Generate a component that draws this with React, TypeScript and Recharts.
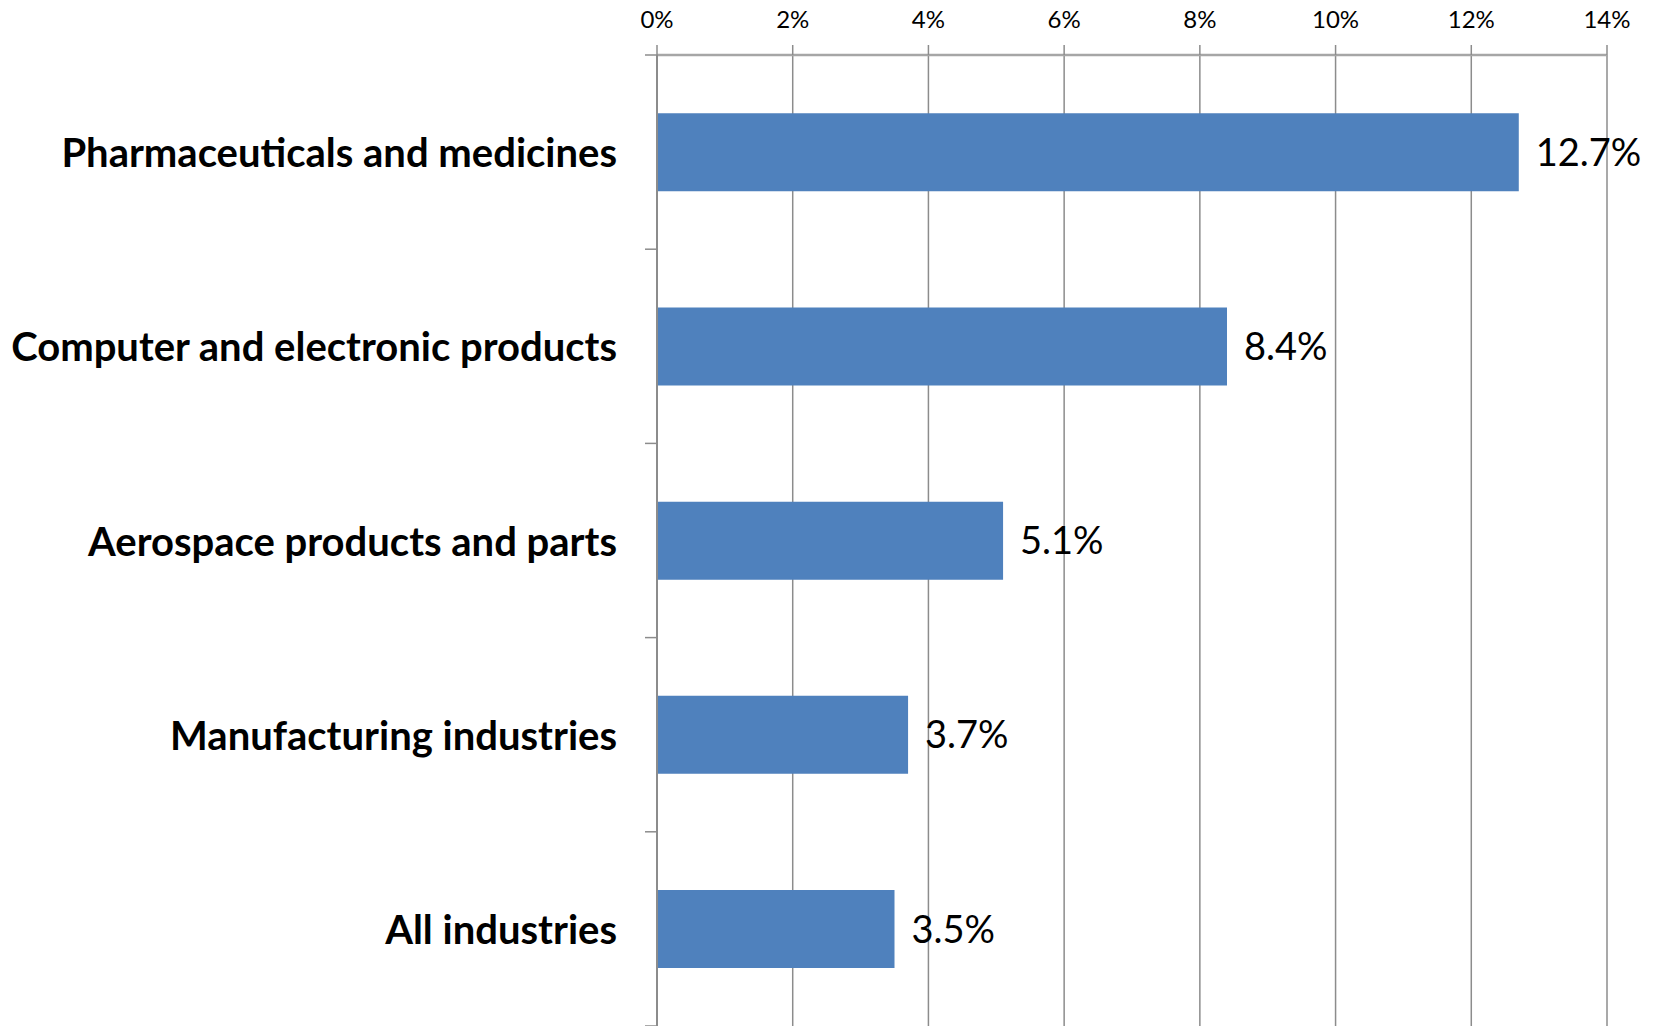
import { Bar, BarChart, CartesianGrid, LabelList, XAxis, YAxis } from "recharts";

const categories = [
  "Pharmaceuticals and medicines",
  "Computer and electronic products",
  "Aerospace products and parts",
  "Manufacturing industries",
  "All industries",
];
const shares = [12.7, 8.4, 5.1, 3.7, 3.5];
const xTicks = [0, 2, 4, 6, 8, 10, 12, 14];

const chartData = categories.map((name, i) => ({ name, share: shares[i] }));

const FONT = "Lato, 'Open Sans', sans-serif";
const GRID = "#8c8c8c";

function CategoryTick(props: any) {
  const { x, y, payload, index } = props;
  const half = payload.offset ?? 0;
  const top = y - half;
  const isLast = index === categories.length - 1;
  return (
    <g>
      <line x1={x} x2={x + 12} y1={top} y2={top} stroke={GRID} strokeWidth={1.5} />
      {isLast && (
        <line x1={x} x2={x + 12} y1={y + half} y2={y + half} stroke={GRID} strokeWidth={1.5} />
      )}
      <text
        x={x - 28}
        y={y}
        textAnchor="end"
        dominantBaseline="central"
        fontFamily={FONT}
        fontWeight={700}
        fontSize={40}
        fill="#000"
      >
        {payload.value}
      </text>
    </g>
  );
}

export default function App() {
  return (
    <div style={{ position: "absolute", left: 0, top: 0, background: "#fff" }}>
      <BarChart
        width={1660}
        height={1026}
        data={chartData}
        layout="vertical"
        barCategoryGap="30%"
        margin={{ top: 0, right: 53, left: 0, bottom: 0 }}
      >
        <CartesianGrid horizontal={false} stroke={GRID} strokeWidth={1.5} />
        <XAxis
          type="number"
          orientation="top"
          domain={[0, 14]}
          ticks={xTicks}
          height={55}
          tickSize={10}
          tickMargin={17}
          interval={0}
          tickFormatter={(v: number) => `${v}%`}
          axisLine={{ stroke: "#a6a6a6", strokeWidth: 2.5 }}
          tickLine={{ stroke: GRID, strokeWidth: 1.5 }}
          tick={{ fill: "#000", fontSize: 24, fontFamily: FONT }}
        />
        <YAxis
          type="category"
          dataKey="name"
          width={657}
          axisLine={{ stroke: GRID, strokeWidth: 2 }}
          tickLine={false}
          interval={0}
          tick={(p: any) => <CategoryTick {...p} x={645} />}
        />
        <Bar dataKey="share" fill="#4f81bd" isAnimationActive={false}>
          <LabelList
            dataKey="share"
            position="right"
            offset={17}
            formatter={(v: any) => `${Number(v).toFixed(1)}%`}
            style={{ fill: "#000", fontSize: 38, fontFamily: FONT }}
          />
        </Bar>
      </BarChart>
    </div>
  );
}
